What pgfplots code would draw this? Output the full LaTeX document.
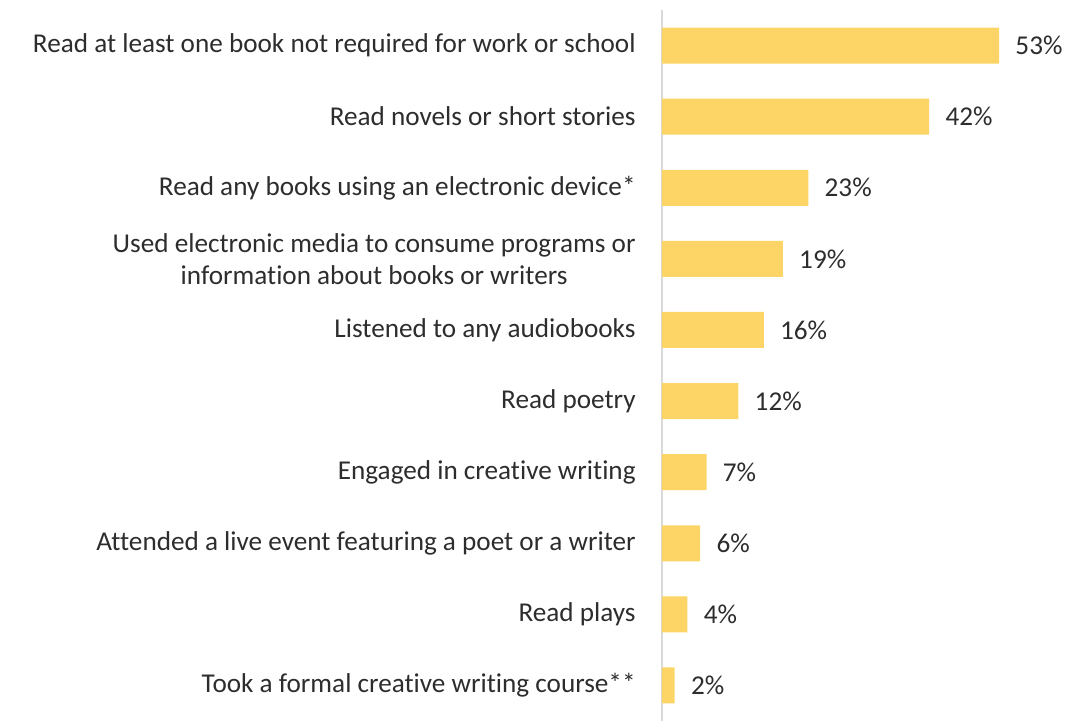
\documentclass[border=0pt]{standalone}
\usepackage{pgfplots}
\pgfplotsset{compat=1.18}
\usepackage{fontspec}
\setmainfont[Ligatures=NoCommon]{Carlito}
\definecolor{baryellow}{RGB}{252,213,102}
\definecolor{txt}{RGB}{45,45,45}
\definecolor{axgray}{RGB}{217,217,217}
\begin{document}
\begin{tikzpicture}
\begin{axis}[
  xbar,
  scale only axis,
  x=3.18pt, y=35.55pt,
  y dir=reverse,
  xmin=0, xmax=60,
  ymin=-0.5, ymax=9.5,
  bar width=18pt,
  axis x line=none,
  axis y line=left,
  y axis line style={-, draw=axgray, line width=0.6pt},
  xtick=\empty,
  ytick={0,1,2,3,4,5,6,7,8,9},
  yticklabels={
    Read at least one book not required for work or school,
    Read novels or short stories,
    Read any books using an electronic device*,
    {Used electronic media to consume programs or\\information about books or writers},
    Listened to any audiobooks,
    Read poetry,
    Engaged in creative writing,
    Attended a live event featuring a poet or a writer,
    Read plays,
    Took a formal creative writing course**},
  major tick length=0pt,
  yticklabel style={anchor=east, inner sep=0pt, xshift=-13pt, align=center,
    font=\fontsize{13.6}{16}\selectfont, text=txt},
  point meta=x,
  /pgf/number format/assume math mode=true,
  nodes near coords={\pgfmathprintnumber{\pgfplotspointmeta}\%},
  nodes near coords style={anchor=west, inner sep=0pt, xshift=8pt,
    font=\fontsize{13.6}{16}\selectfont, text=txt},
  clip=false,
]
\addplot[fill=baryellow, draw=none] coordinates {
  (53,0) (42,1) (23,2) (19,3) (16,4) (12,5) (7,6) (6,7) (4,8) (2,9)
};
\coordinate (tl) at (axis cs:0,-0.5);
\end{axis}
\path[use as bounding box] ([shift={(-331pt,5pt)}]tl) rectangle ([shift={(203pt,-352.5pt)}]tl);
\end{tikzpicture}
\end{document}
